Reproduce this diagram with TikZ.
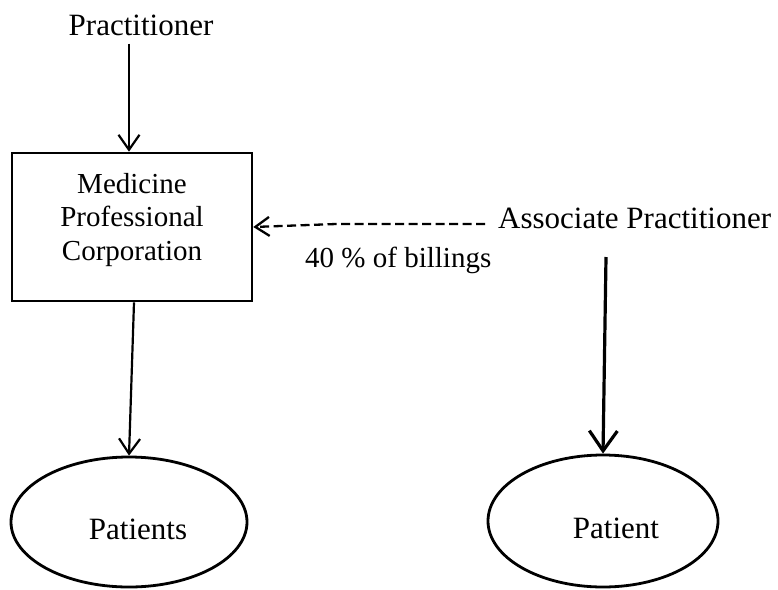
\documentclass[tikz,border=0pt]{standalone}
\usepackage{fontspec}
\setmainfont{Liberation Serif}
\usetikzlibrary{arrows.meta,calc,shapes.geometric}

\tikzset{
  bigtext/.style={font=\fontsize{31}{36}\selectfont, inner sep=0pt},
  boxtext/.style={font=\fontsize{29}{33.5}\selectfont, align=center, inner sep=0pt},
  notetext/.style={font=\fontsize{29}{33}\selectfont, inner sep=0pt},
  corpbox/.style={draw, line width=2.6pt, rectangle, minimum width=240pt, minimum height=148pt, inner sep=0pt},
  patientshape/.style={draw, line width=2.8pt, ellipse, inner sep=0pt},
  thinarrow/.style={line width=2.2pt, -{Straight Barb[length=15pt,width=21pt,line width=2.2pt]}},
  thickarrow/.style={line width=3.2pt, -{Straight Barb[length=20pt,width=28pt,line width=3.2pt]}},
  feearrow/.style={line width=2.3pt, dash pattern=on 9pt off 4.5pt,
    -{Straight Barb[length=14pt,width=19pt,line width=2.3pt]}}
}

\begin{document}
\begin{tikzpicture}[x=1pt,y=-1pt]
  \useasboundingbox (0,0) rectangle (778,589);

  % practitioner and the corporation
  \node[bigtext, anchor=base] (prac) at (141,35) {Practitioner};
  \node[corpbox] (mpc) at (132,227) {};
  \node[boxtext] (mpclabel) at (132,219.8) {Medicine\\Professional\\Corporation};

  % associate practitioner and fee note
  \node[bigtext, anchor=base west] (ap) at (498,228) {Associate Practitioner};
  \node[notetext, anchor=base west] (fee) at (305,267) {40 \% of billings};

  % patients
  \node[patientshape, minimum width=236pt, minimum height=130pt] (pts) at (129,522) {};
  \node[bigtext, anchor=base] (ptslabel) at (138,539) {Patients};
  \node[patientshape, minimum width=230pt, minimum height=132pt] (pat2) at (603,521) {};
  \node[bigtext, anchor=base] (pat2label) at (616,538) {Patient};

  % connectors
  \draw[thinarrow] ($(mpc.north)+(-3,-108)$) -- ($(mpc.north)+(-3,0)$);
  \draw[thinarrow] ($(mpc.south)+(2,0)$) -- (pts.north);
  \draw[thickarrow] ($(ap.base -| pat2.north)+(3,29)$) -- (pat2.north);
  \draw[feearrow] ($(ap.base west)+(-13,-4)$) -- ($(mpc.east)+(83,-3)$) -- (mpc.east);
\end{tikzpicture}
\end{document}
